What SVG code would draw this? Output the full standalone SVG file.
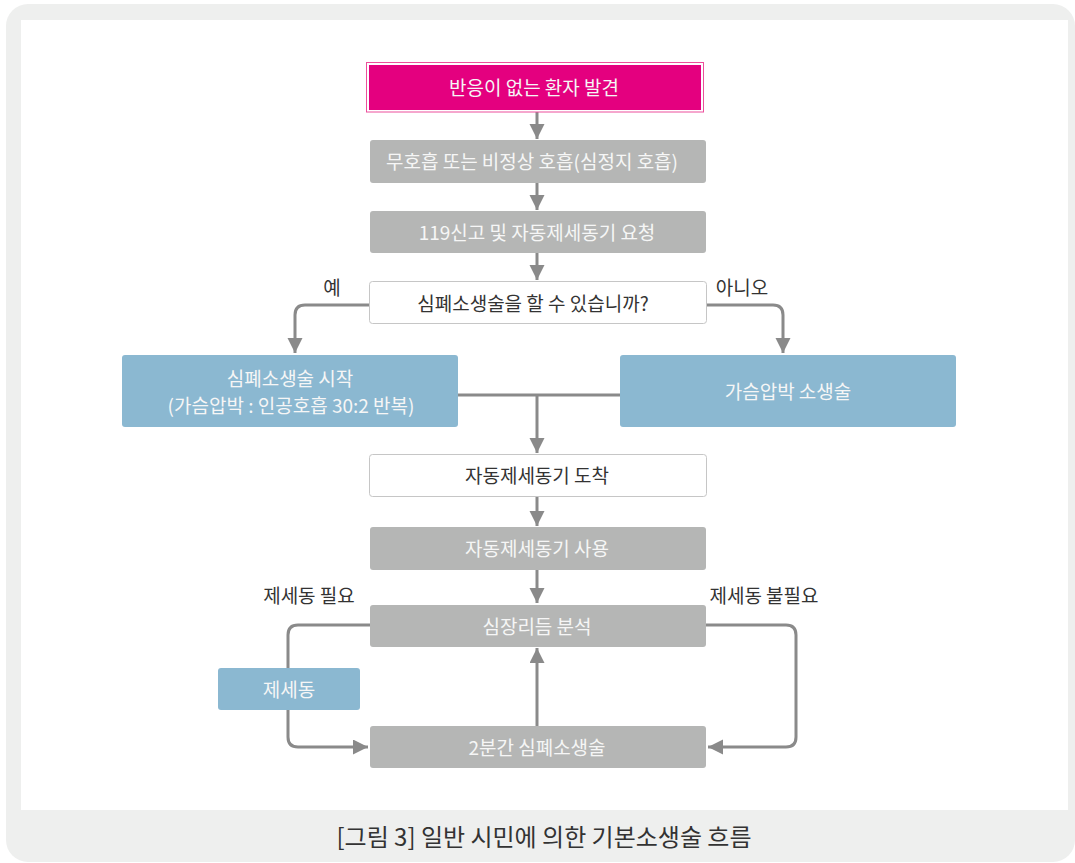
<svg xmlns="http://www.w3.org/2000/svg" width="1075" height="863" viewBox="0 0 1075 863">
<defs>
<style>
text{font-family:"Noto Sans CJK KR","Noto Sans",sans-serif;text-anchor:middle;dominant-baseline:central}
.nt{font-size:19px}
.w{fill:#f6f6f6}
.d{fill:#333333}
.gray{fill:#b5b6b5}
.blue{fill:#8bb8d1}
.white{fill:#ffffff;stroke:#c6c6c6;stroke-width:1}
.lbl{font-size:19px;fill:#333333}
.conn{fill:none;stroke:#8a8a8a;stroke-width:3}
</style>
<marker id="ah" markerUnits="userSpaceOnUse" markerWidth="16" markerHeight="16" refX="15" refY="7.5" orient="auto" viewBox="0 0 16 16">
<path d="M0,0 L15,7.5 L0,15 z" fill="#8a8a8a"/>
</marker>
</defs>
<rect x="6" y="4" width="1069" height="858" rx="22" fill="#eeefee"/>
<rect x="21" y="20" width="1047" height="790" fill="#ffffff"/>
<g id="connectors">
<path class="conn" d="M537,112 V139" marker-end="url(#ah)"/>
<path class="conn" d="M537,183 V210" marker-end="url(#ah)"/>
<path class="conn" d="M537,253 V280" marker-end="url(#ah)"/>
<path class="conn" d="M369,305 H305 Q295,305 295,315 V353" marker-end="url(#ah)"/>
<path class="conn" d="M707,305 H773 Q783,305 783,315 V353" marker-end="url(#ah)"/>
<path class="conn" d="M458,395 H620"/>
<path class="conn" d="M537,395 V453" marker-end="url(#ah)"/>
<path class="conn" d="M537,497 V526" marker-end="url(#ah)"/>
<path class="conn" d="M537,570 V603" marker-end="url(#ah)"/>
<path class="conn" d="M370,625 H298 Q288,625 288,635 V737 Q288,747 298,747 H368" marker-end="url(#ah)"/>
<path class="conn" d="M706,625 H786 Q796,625 796,635 V737 Q796,747 786,747 H708" marker-end="url(#ah)"/>
<path class="conn" d="M537,726 V648" marker-end="url(#ah)"/>
</g>
<g id="n-start">
<rect x="366.5" y="62.5" width="337" height="49.5" fill="#ffffff" stroke="#ec4f9c" stroke-width="1"/>
<rect x="369" y="65" width="332" height="45" fill="#e4007f"/>
<text class="nt w" x="534" y="86.5">반응이 없는 환자 발견</text>
</g>
<g id="n-breath">
<rect class="gray" x="370" y="140" width="336" height="43" rx="3"/>
<text class="nt w" x="532" y="160.5">무호흡 또는 비정상 호흡(심정지 호흡)</text>
</g>
<g id="n-call">
<rect class="gray" x="370" y="211" width="336" height="42" rx="3"/>
<text class="nt w" x="537" y="231">119신고 및 자동제세동기 요청</text>
</g>
<g id="n-question">
<rect class="white" x="369.5" y="281.5" width="337" height="42" rx="3"/>
<text class="nt d" x="533" y="302">심폐소생술을 할 수 있습니까?</text>
</g>
<text class="lbl" x="332" y="286">예</text>
<text class="lbl" x="742" y="286">아니오</text>
<g id="n-cpr">
<rect class="blue" x="122" y="355" width="336" height="72" rx="3"/>
<text class="nt w" x="290" y="377">심폐소생술 시작</text>
<text class="nt w" x="291" y="404">(가슴압박 : 인공호흡 30:2 반복)</text>
</g>
<g id="n-hands">
<rect class="blue" x="620" y="355" width="336" height="72" rx="3"/>
<text class="nt w" x="788" y="390">가슴압박 소생술</text>
</g>
<g id="n-arrive">
<rect class="white" x="369.5" y="454.5" width="337" height="42" rx="3"/>
<text class="nt d" x="537" y="474.5">자동제세동기 도착</text>
</g>
<g id="n-use">
<rect class="gray" x="370" y="527" width="336" height="43" rx="3"/>
<text class="nt w" x="537" y="547.5">자동제세동기 사용</text>
</g>
<g id="n-analyze">
<rect class="gray" x="370" y="605" width="336" height="42" rx="3"/>
<text class="nt w" x="537" y="625">심장리듬 분석</text>
</g>
<g id="n-shock">
<rect class="blue" x="218" y="668" width="142" height="42" rx="3"/>
<text class="nt w" x="289" y="688">제세동</text>
</g>
<g id="n-cpr2">
<rect class="gray" x="370" y="726" width="336" height="42" rx="3"/>
<text class="nt w" x="537" y="746">2분간 심폐소생술</text>
</g>
<text class="lbl" x="309" y="594">제세동 필요</text>
<text class="lbl" x="764" y="594">제세동 불필요</text>
<text x="544" y="835" style="font-size:24px;fill:#333333">[그림 3] 일반 시민에 의한 기본소생술 흐름</text>
</svg>
